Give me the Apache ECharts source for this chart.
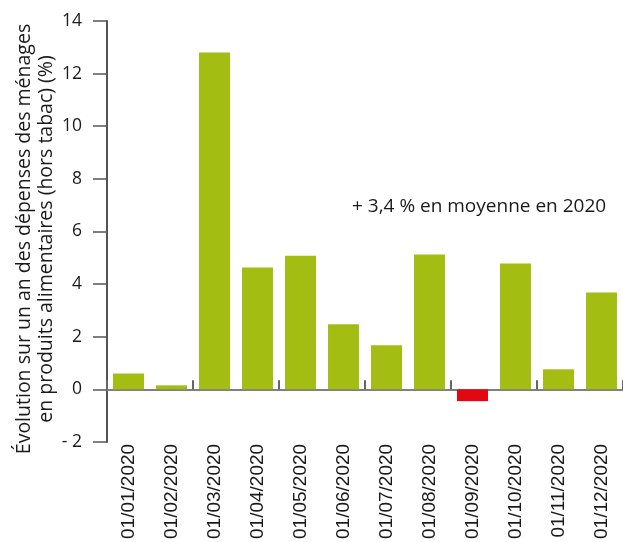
<!DOCTYPE html>
<html>
<head>
<meta charset="utf-8">
<script src="https://cdn.jsdelivr.net/npm/echarts@6/dist/echarts.min.js"></script>
<style>html,body{margin:0;padding:0;background:#fff}#c{width:623px;height:542px}</style>
</head>
<body>
<div id="c"></div>
<script>
const categories = ['01/01/2020','01/02/2020','01/03/2020','01/04/2020','01/05/2020','01/06/2020','01/07/2020','01/08/2020','01/09/2020','01/10/2020','01/11/2020','01/12/2020'];
const values = [0.6, 0.15, 12.8, 4.63, 5.08, 2.47, 1.67, 5.12, -0.45, 4.78, 0.76, 3.68];
const yTitle = ['Évolution sur un an des dépenses des ménages', 'en produits alimentaires (hors tabac) (%)'];
const note = '+ 3,4 % en moyenne en 2020';

const chart = echarts.init(document.getElementById('c'), null, {renderer: 'canvas'});
chart.setOption({
  animation: false,
  grid: {left: 107, right: 0, top: 21, bottom: 99, containLabel: false},
  xAxis: [{
    type: 'category', data: categories,
    axisLine: {onZero: true, lineStyle: {color: '#808080', width: 2}},
    axisTick: {show: true, inside: true, length: 9, lineStyle: {color: '#666', width: 2}},
    axisLabel: {show: false}
  }, {
    type: 'category', data: categories, position: 'bottom',
    axisLine: {show: false, onZero: false}, axisTick: {show: false},
    axisLabel: {rotate: 90, margin: 2, fontFamily: 'Liberation Sans', fontSize: 19, color: '#1a1a1a'}
  }],
  yAxis: {
    type: 'value', min: -2, max: 14, interval: 2,
    splitLine: {show: false},
    axisLine: {show: true, lineStyle: {color: '#555', width: 2}},
    axisTick: {show: true, length: 14, lineStyle: {color: '#555', width: 1.5}},
    axisLabel: {margin: 25, fontFamily: 'Open Sans', fontSize: 17.5, color: '#1a1a1a',
      formatter: v => v < 0 ? '- ' + Math.abs(v) : String(v)}
  },
  series: [{
    type: 'bar', data: values.map(v => ({value: v, itemStyle: {color: v < 0 ? '#e30613' : '#a3bd13'}})),
    barCategoryGap: '28%', xAxisIndex: 0
  }],
  graphic: [{
    type: 'text', x: 35, y: 239, rotation: Math.PI / 2,
    style: {text: yTitle.join('\n'), font: '19.5px "Open Sans"', fill: '#1a1a1a', align: 'center', verticalAlign: 'middle', lineHeight: 22}
  }, {
    type: 'text', x: 352, y: 207,
    style: {text: note, font: '19px "Open Sans"', fill: '#1a1a1a', align: 'left', verticalAlign: 'middle'}
  }]
});
</script>
</body>
</html>
